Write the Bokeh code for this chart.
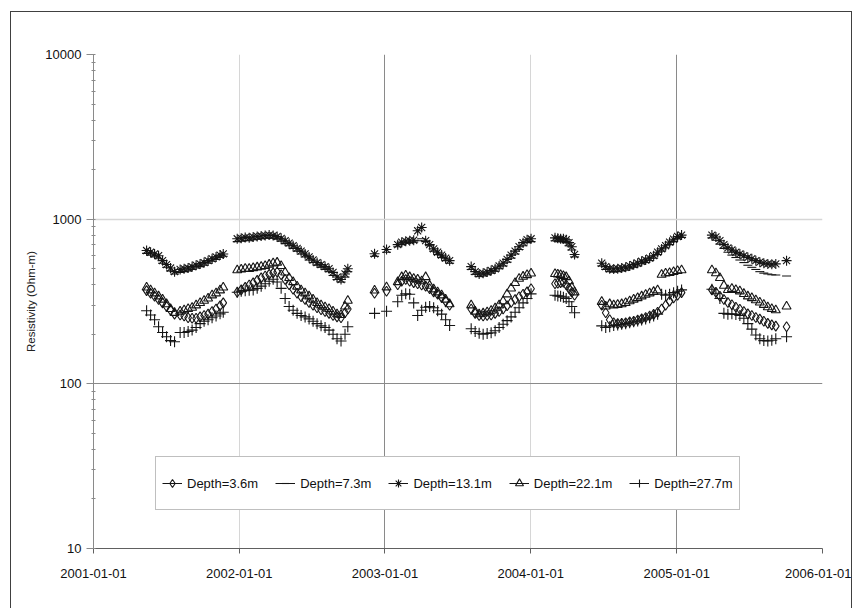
import numpy as np
import pandas as pd
from bokeh.plotting import figure
from bokeh.models import (FixedTicker, Grid, Legend, LegendItem, CustomJSTickFormatter,
                          Range1d, ColumnDataSource)
from bokeh.embed import file_html
from bokeh.resources import INLINE

# ---------------- data ----------------
series_names = ["Depth=3.6m", "Depth=7.3m", "Depth=13.1m", "Depth=22.1m", "Depth=27.7m"]
year_ticks = ["2001-01-01", "2002-01-01", "2003-01-01", "2004-01-01", "2005-01-01", "2006-01-01"]
y_ticks = [10, 100, 1000, 10000]

dates = [
    # 2001 season
    "2001-05-14", "2001-05-24", "2001-06-03", "2001-06-13", "2001-06-23", "2001-07-03", "2001-07-13",
    "2001-07-23", "2001-08-06", "2001-08-16", "2001-08-26", "2001-09-05", "2001-09-15", "2001-09-25",
    "2001-10-05", "2001-10-15", "2001-10-25", "2001-11-04", "2001-11-14", "2001-11-22",
    # 2002 season
    "2001-12-27", "2002-01-06", "2002-01-16", "2002-01-26", "2002-02-05", "2002-02-15", "2002-02-25",
    "2002-03-07", "2002-03-17", "2002-03-27", "2002-04-06", "2002-04-16", "2002-04-26", "2002-05-06",
    "2002-05-16", "2002-05-26", "2002-06-05", "2002-06-15", "2002-06-25", "2002-07-05", "2002-07-15",
    "2002-07-25", "2002-08-04", "2002-08-14", "2002-08-24", "2002-09-03", "2002-09-13", "2002-09-23",
    "2002-09-30",
    # isolated
    "2002-12-06", "2003-01-05",
    # 2003 spring
    "2003-02-02", "2003-02-12", "2003-02-22", "2003-03-04", "2003-03-14", "2003-03-24", "2003-04-03",
    "2003-04-13", "2003-04-23", "2003-05-03", "2003-05-13", "2003-05-23", "2003-06-02", "2003-06-12",
    # 2003 autumn
    "2003-08-05", "2003-08-15", "2003-08-25", "2003-09-04", "2003-09-14", "2003-09-24", "2003-10-04",
    "2003-10-14", "2003-10-24", "2003-11-03", "2003-11-13", "2003-11-23", "2003-12-03", "2003-12-13",
    "2003-12-23", "2004-01-02",
    # 2004 spring
    "2004-03-02", "2004-03-09", "2004-03-16", "2004-03-23", "2004-03-30", "2004-04-06", "2004-04-13",
    "2004-04-20",
    # 2004-2005
    "2004-06-27", "2004-07-07", "2004-07-17", "2004-07-27", "2004-08-06", "2004-08-16", "2004-08-26",
    "2004-09-05", "2004-09-15", "2004-09-25", "2004-10-05", "2004-10-15", "2004-10-25", "2004-11-04",
    "2004-11-14", "2004-11-24", "2004-12-04", "2004-12-14", "2004-12-24", "2005-01-03", "2005-01-13",
    # 2005
    "2005-03-30", "2005-04-09", "2005-04-19", "2005-04-29", "2005-05-09", "2005-05-19", "2005-05-29",
    "2005-06-08", "2005-06-18", "2005-06-28", "2005-07-08", "2005-07-18", "2005-07-28", "2005-08-07",
    "2005-08-17", "2005-08-27", "2005-09-06", "2005-10-03",
]

depth_3_6 = [
    368, 355, 340, 325, 310, 295, 280, 265, 262, 258, 252, 250, 250, 255, 260, 265, 275, 285, 298, 310,
    360, 372, 385, 398, 410, 425, 440, 452, 462, 472, 478, 460, 430, 400, 375, 355, 338, 325, 312, 300,
    290, 282, 275, 268, 260, 255, 252, 270, 285,
    355, 365,
    400, 420, 430, 420, 412, 405, 398, 392, 378, 362, 350, 335, 318, 300,
    285, 268, 260, 258, 260, 262, 268, 275, 285, 298, 312, 325, 338, 350, 362, 378,
    405, 408, 412, 414, 400, 380, 360, 345,
    300, 270, 245, 235, 232, 233, 235, 238, 240, 244, 248, 253, 258, 264, 272, 285, 300, 318, 332, 345, 358,
    372, 360, 340, 325, 312, 302, 292, 284, 275, 266, 260, 253, 247, 240, 233, 228, 224, 222,
]

depth_7_3 = [
    620, 605, 590, 575, 540, 510, 485, 465, 475, 480, 485, 495, 505, 515, 525, 540, 555, 570, 585, 595,
    730, 735, 745, 740, 750, 755, 760, 765, 770, 765, 755, 735, 710, 690, 665, 640, 615, 590, 565, 545,
    525, 510, 495, 480, 455, 430, 415, 445, 480,
    595, 630,
    680, 700, 715, 720, 725, 740, 760, 730, 690, 640, 610, 585, 560, 540,
    495, 462, 448, 452, 460, 470, 482, 500, 520, 548, 580, 615, 655, 690, 720, 730,
    740, 735, 730, 730, 720, 690, 650, 590,
    520, 495, 480, 478, 480, 485, 490, 500, 510, 520, 535, 545, 560, 580, 610, 640, 670, 700, 730, 760, 775,
    770, 745, 705, 665, 630, 605, 585, 565, 545, 525, 510, 495, 480, 470, 465, 460, 458, 452,
]

depth_13_1 = [
    645, 630, 615, 600, 560, 530, 505, 480, 495, 500, 505, 515, 525, 535, 545, 560, 575, 590, 605, 615,
    760, 765, 775, 770, 780, 785, 790, 795, 800, 795, 785, 765, 740, 715, 690, 665, 640, 615, 590, 565,
    545, 530, 515, 500, 475, 445, 430, 465, 500,
    616, 655,
    700, 725, 735, 740, 745, 850, 890, 740, 700, 660, 630, 605, 580, 560,
    515, 480, 465, 470, 478, 488, 500, 520, 540, 570, 605, 640, 680, 720, 750, 760,
    770, 765, 760, 760, 750, 720, 680, 610,
    540, 515, 500, 498, 500, 505, 510, 520, 530, 540, 555, 565, 580, 600, 630, 660, 690, 725, 755, 785, 800,
    800, 780, 740, 700, 670, 650, 630, 615, 600, 585, 575, 560, 548, 540, 535, 532, 535, 560,
]

depth_22_1 = [
    385, 370, 355, 340, 325, 305, 285, 270, 275, 280, 285, 290, 300, 310, 320, 330, 345, 355, 370, 385,
    490, 495, 500, 500, 505, 510, 515, 520, 530, 540, 545, 520, 475, 440, 415, 390, 370, 355, 340, 325,
    310, 300, 292, 285, 275, 265, 262, 295, 320,
    369, 386,
    415, 445, 455, 445, 435, 430, 420, 445, 395, 375, 360, 345, 325, 305,
    300, 275, 265, 268, 272, 278, 288, 300, 318, 350, 380, 410, 435, 448, 458, 468,
    465, 462, 458, 452, 445, 420, 385, 360,
    315, 295, 305, 300, 302, 305, 310, 318, 325, 332, 340, 348, 355, 362, 370, 460, 468, 472, 478, 485, 490,
    490, 470, 440, 395, 372, 378, 372, 365, 352, 340, 332, 322, 312, 302, 292, 285, 280, 295,
]

depth_27_7 = [
    278, 262, 245, 222, 205, 193, 183, 180, 205, 205, 208, 212, 220, 232, 240, 245, 252, 258, 266, 272,
    360, 365, 368, 370, 372, 380, 392, 405, 420, 432, 415, 380, 330, 295, 280, 268, 260, 255, 248, 240,
    232, 225, 220, 212, 200, 188, 182, 200, 222,
    268, 276,
    315, 345, 352, 350, 310, 260, 280, 292, 295, 290, 278, 265, 245, 226,
    216, 208, 203, 200, 202, 204, 210, 220, 230, 242, 255, 272, 290, 310, 330, 352,
    345, 342, 340, 336, 330, 315, 295, 270,
    225, 220, 222, 226, 228, 230, 232, 235, 238, 241, 244, 248, 252, 258, 265, 350, 345, 350, 358, 365, 372,
    375, 355, 330, 268, 265, 266, 264, 260, 250, 232, 215, 198, 188, 183, 182, 184, 188, 193,
]

# ---------------- figure ----------------
x = pd.to_datetime(dates)
src = ColumnDataSource(dict(x=x, d1=depth_3_6, d2=depth_7_3, d3=depth_13_1, d4=depth_22_1, d5=depth_27_7))

year_ms = [pd.Timestamp(d).value // 10**6 for d in year_ticks]

p = figure(x_axis_type="datetime", y_axis_type="log",
           x_range=Range1d(pd.Timestamp(year_ticks[0]), pd.Timestamp(year_ticks[-1])),
           y_range=Range1d(y_ticks[0], y_ticks[-1]),
           frame_width=729, frame_height=494,
           min_border_left=82, min_border_right=29, min_border_top=42, min_border_bottom=60,
           output_backend="svg", toolbar_location=None)
p.margin = (12, 0, 0, 11)
p.styles = {"outline": "1px solid #404040"}
p.outline_line_color = None
p.background_fill_color = "white"
p.border_fill_color = "white"

# grids
p.xgrid.visible = False
p.ygrid.visible = False
dark = "#8a8a8a"
light = "#d6d6d6"
p.add_layout(Grid(dimension=0, ticker=FixedTicker(ticks=[year_ms[2], year_ms[4], year_ms[5]]),
                  grid_line_color=dark))
p.add_layout(Grid(dimension=0, ticker=FixedTicker(ticks=[year_ms[1], year_ms[3]]),
                  grid_line_color=light))
p.add_layout(Grid(dimension=1, ticker=FixedTicker(ticks=[y_ticks[1]]), grid_line_color=dark))
p.add_layout(Grid(dimension=1, ticker=FixedTicker(ticks=[y_ticks[2], y_ticks[3]]),
                  grid_line_color=light, grid_line_width=1.5))

# axes
font = "Liberation Sans"
minor = [k * 10 ** e for e in range(1, 4) for k in range(2, 10)]
p.yaxis.ticker = FixedTicker(ticks=y_ticks, minor_ticks=minor)
p.yaxis.formatter = CustomJSTickFormatter(code="return String(Math.round(tick));")
p.yaxis.axis_line_color = "#8a8a8a"
p.yaxis.major_tick_line_color = "#8a8a8a"
p.yaxis.minor_tick_line_color = "#8a8a8a"
p.yaxis.major_tick_out = 7
p.yaxis.major_tick_in = 2
p.yaxis.minor_tick_out = 2
p.yaxis.minor_tick_in = 2
p.yaxis.major_label_standoff = 5
p.yaxis.axis_label = "Resistivity (Ohm-m)"
p.yaxis.axis_label_text_font = font
p.yaxis.axis_label_text_font_size = "11.5px"
p.yaxis.axis_label_text_font_style = "normal"
p.yaxis.axis_label_text_color = "#222222"
p.yaxis.axis_label_standoff = 5

p.xaxis.ticker = FixedTicker(ticks=year_ms)
p.xaxis.formatter = CustomJSTickFormatter(code="return new Date(tick).toISOString().slice(0, 10);")
p.xaxis.axis_line_color = "#606060"
p.xaxis.major_tick_line_color = "#606060"
p.xaxis.minor_tick_line_color = None
p.xaxis.major_tick_out = 5
p.xaxis.major_tick_in = 0
p.xaxis.major_label_standoff = 15

for ax in (p.xaxis, p.yaxis):
    ax.major_label_text_font = font
    ax.major_label_text_font_size = "13px"
    ax.major_label_text_color = "#111111"

# series
col = "#151515"
styles = [
    dict(marker="diamond", size=10, fill_color=None),
    dict(marker="dash", size=9),
    dict(marker="asterisk", size=10),
    dict(marker="triangle", size=9, fill_color=None),
    dict(marker="cross", size=11),
]
items = []
for i, (name, st) in enumerate(zip(series_names, styles)):
    r = p.scatter("x", "d%d" % (i + 1), source=src, line_color=col, line_width=1.1, **st)
    lr = p.line(x=[x[0]], y=[np.nan], line_color=col, line_width=1)
    items.append(LegendItem(label=name, renderers=[lr, r]))

legend = Legend(items=items, orientation="horizontal", location=(62, 38),
                glyph_width=20, glyph_height=20, label_height=40, label_standoff=5,
                spacing=17, padding=6, margin=0,
                border_line_color="#808080", background_fill_color="white", background_fill_alpha=1,
                label_text_font=font, label_text_font_size="13px", label_text_color="#111111")
p.add_layout(legend)

open("out.html", "w").write(file_html(p, INLINE))
